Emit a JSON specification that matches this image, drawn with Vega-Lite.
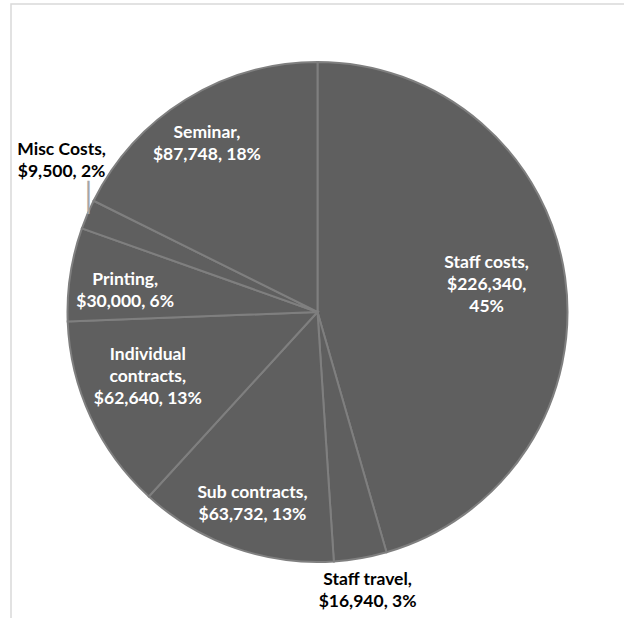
{
  "$schema": "https://vega.github.io/schema/vega-lite/v6.json",
  "width": 613,
  "height": 616,
  "autosize": "none",
  "padding": {"left": 11, "top": 4, "right": 0, "bottom": 0},
  "background": "white",
  "view": {"stroke": "#d9d9d9", "strokeWidth": 1.5, "strokeDash": [613, 1229, 616]},
  "data": {"values": [
    {"idx": 1, "cat": "Staff costs", "amount": 226340, "label": "Staff costs,\n$226,340,\n45%"},
    {"idx": 2, "cat": "Staff travel", "amount": 16940, "label": "Staff travel,\n$16,940, 3%"},
    {"idx": 3, "cat": "Sub contracts", "amount": 63732, "label": "Sub contracts,\n$63,732, 13%"},
    {"idx": 4, "cat": "Individual contracts", "amount": 62640, "label": "Individual\ncontracts,\n$62,640, 13%"},
    {"idx": 5, "cat": "Printing", "amount": 30000, "label": "Printing,\n$30,000, 6%"},
    {"idx": 6, "cat": "Misc Costs", "amount": 9500, "label": "Misc Costs,\n$9,500, 2%"},
    {"idx": 7, "cat": "Seminar", "amount": 87748, "label": "Seminar,\n$87,748, 18%"}
  ]},
  "encoding": {
    "theta": {"field": "amount", "type": "quantitative", "stack": true},
    "order": {"field": "idx", "type": "quantitative"}
  },
  "layer": [
    {"mark": {"type": "arc", "outerRadius": 250, "fill": "#5f5f5f", "stroke": "#7f7f7f", "strokeWidth": 2}},
    {"mark": {"type": "text", "radius": 176, "thetaOffset": -0.141, "font": "Lato", "fontWeight": "bold", "fontSize": 17.5, "lineHeight": 22, "lineBreak": "\n", "color": "white"},
     "encoding": {"text": {"condition": {"test": "datum.cat === 'Staff costs'", "field": "label"}, "value": ""}}},
    {"mark": {"type": "text", "radius": 273, "thetaOffset": -0.012, "font": "Lato", "fontWeight": "bold", "fontSize": 17.5, "lineHeight": 22, "lineBreak": "\n", "color": "black"},
     "encoding": {"text": {"condition": {"test": "datum.cat === 'Staff travel'", "field": "label"}, "value": ""}}},
    {"mark": {"type": "text", "radius": 192, "thetaOffset": 0.008, "font": "Lato", "fontWeight": "bold", "fontSize": 17.5, "lineHeight": 22, "lineBreak": "\n", "color": "white"},
     "encoding": {"text": {"condition": {"test": "datum.cat === 'Sub contracts'", "field": "label"}, "value": ""}}},
    {"mark": {"type": "text", "radius": 175, "thetaOffset": 0.187, "font": "Lato", "fontWeight": "bold", "fontSize": 17.5, "lineHeight": 22, "lineBreak": "\n", "color": "white"},
     "encoding": {"text": {"condition": {"test": "datum.cat === 'Individual contracts'", "field": "label"}, "value": ""}}},
    {"mark": {"type": "text", "radius": 195, "thetaOffset": 0.014, "font": "Lato", "fontWeight": "bold", "fontSize": 17.5, "lineHeight": 22, "lineBreak": "\n", "color": "white"},
     "encoding": {"text": {"condition": {"test": "datum.cat === 'Printing'", "field": "label"}, "value": ""}}},
    {"mark": {"type": "text", "radius": 303, "thetaOffset": 0.164, "font": "Lato", "fontWeight": "bold", "fontSize": 17.5, "lineHeight": 22, "lineBreak": "\n", "color": "black"},
     "encoding": {"text": {"condition": {"test": "datum.cat === 'Misc Costs'", "field": "label"}, "value": ""}}},
    {"mark": {"type": "text", "radius": 210, "thetaOffset": 0.0, "font": "Lato", "fontWeight": "bold", "fontSize": 17.5, "lineHeight": 22, "lineBreak": "\n", "color": "white"},
     "encoding": {"text": {"condition": {"test": "datum.cat === 'Seminar'", "field": "label"}, "value": ""}}},
    {"mark": {"type": "text", "radius": 255, "thetaOffset": 0.056, "font": "DejaVu Sans Mono", "fontSize": 28, "color": "#a6a6a6"},
     "encoding": {"text": {"condition": {"test": "datum.cat === 'Misc Costs'", "value": "│"}, "value": ""}}}
  ]
}
